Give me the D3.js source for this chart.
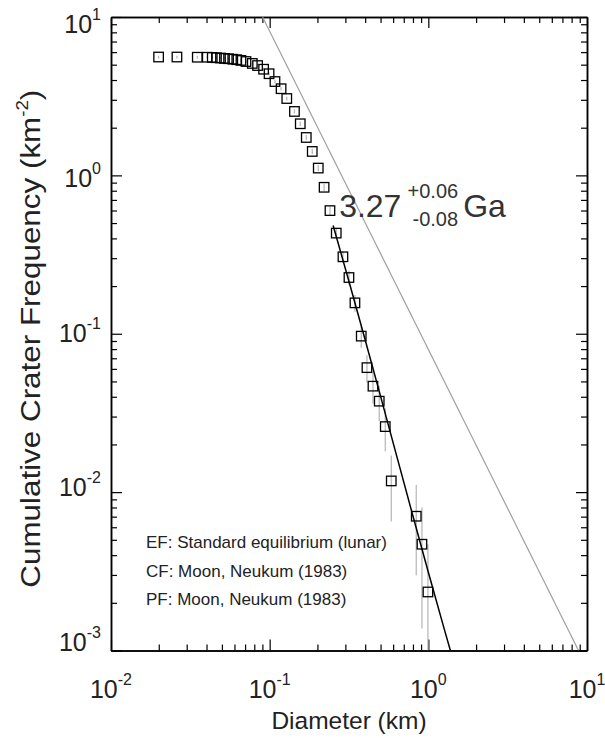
<!DOCTYPE html>
<html>
<head>
<meta charset="utf-8">
<script src="https://cdn.jsdelivr.net/npm/d3@7"></script>
<style>
  body { margin: 0; background: #fff; }
  text { font-family: "Liberation Sans", Arial, Helvetica, sans-serif; fill: #222; }
  .axis path.domain { stroke: #000; stroke-width: 1.5; }
  .axis line { stroke: #000; stroke-width: 1.2; }
</style>
</head>
<body>
<script>
// cumulative crater counts (km, km^-2)
const diameters = [0.01995, 0.02604, 0.03498, 0.04044, 0.04347, 0.04620, 0.04898, 0.05190,
  0.05508, 0.05853, 0.06203, 0.06592, 0.07090, 0.07771, 0.08391, 0.09155, 0.09913, 0.1080,
  0.1180, 0.1282, 0.1433, 0.1559, 0.1701, 0.1855, 0.2024, 0.2203, 0.2399, 0.2628, 0.2896,
  0.3160, 0.3447, 0.3777, 0.4103, 0.4477, 0.4904, 0.5353, 0.5839, 0.8390, 0.9115, 0.9942];
const frequencies = [5.588, 5.588, 5.572, 5.572, 5.556, 5.532, 5.508, 5.477,
  5.453, 5.413, 5.375, 5.319, 5.235, 5.092, 4.938, 4.680, 4.384, 3.913,
  3.525, 3.057, 2.533, 2.118, 1.735, 1.416, 1.112, 0.8409, 0.5993, 0.4320, 0.3061,
  0.2265, 0.1567, 0.0966, 0.0611, 0.04667, 0.03752, 0.02593, 0.01177, 0.007044, 0.004688, 0.002342];
const frequencyErrors = [0.1143, 0.1143, 0.1143, 0.1143, 0.1141, 0.1138, 0.1136, 0.1133,
  0.1130, 0.1126, 0.1122, 0.1116, 0.1107, 0.1092, 0.1075, 0.1047, 0.1013, 0.0957,
  0.0909, 0.0846, 0.0770, 0.0704, 0.0637, 0.0576, 0.0510, 0.0444, 0.0375, 0.0318, 0.0268,
  0.0230, 0.0192, 0.01504, 0.01196, 0.01045, 0.00937, 0.00779, 0.00525, 0.00406, 0.00331, 0.00234];

// fitted production function (PF) over the fit range
const fitDiameters = [0.2512, 0.3162, 0.3981, 0.5012, 0.6310, 0.7943, 1.0, 1.2589, 1.377];
const fitFrequencies = [0.4827, 0.2137, 0.0930, 0.03993, 0.01701, 0.007249, 0.003119, 0.001369, 0.001001];

// standard lunar equilibrium (EF)
const equilibriumDiameters = [0.0902, 8.84];
const equilibriumFrequencies = [10, 0.001];

const xTickExponents = [-2, -1, 0, 1];
const yTickExponents = [-3, -2, -1, 0, 1];

const legendKeys = ["EF", "CF", "PF"];
const legendTexts = ["Standard equilibrium (lunar)", "Moon, Neukum (1983)", "Moon, Neukum (1983)"];

const ageValue = "3.27", agePlus = "+0.06", ageMinus = "-0.08", ageUnit = "Ga";

const width = 605, height = 738;
const margin = { top: 17, right: 18, bottom: 87.5, left: 111 };

const svg = d3.select("body").append("svg")
  .attr("width", width)
  .attr("height", height);

const x = d3.scaleLog().domain([1e-2, 1e1]).range([margin.left, width - margin.right]);
const y = d3.scaleLog().domain([1e-3, 1e1]).range([height - margin.bottom, margin.top]);

const isMajor = d => Math.abs(Math.log10(d) - Math.round(Math.log10(d))) < 1e-9;
const xMajor = x.ticks().filter(isMajor), xMinor = x.ticks().filter(d => !isMajor(d));
const yMajor = y.ticks().filter(isMajor), yMinor = y.ticks().filter(d => !isMajor(d));

// ticks on all four sides, pointing inwards
function axis(fn, transform, values, size) {
  svg.append("g")
    .attr("class", "axis")
    .attr("transform", transform)
    .call(fn.tickValues(values).tickSize(size).tickSizeOuter(0).tickFormat(""));
}
const x0 = height - margin.bottom, x1 = margin.top;
const y0 = margin.left, y1 = width - margin.right;
axis(d3.axisBottom(x), `translate(0,${x0})`, xMinor, -6);
axis(d3.axisBottom(x), `translate(0,${x0})`, xMajor, -11);
axis(d3.axisTop(x), `translate(0,${x1})`, xMinor, -6);
axis(d3.axisTop(x), `translate(0,${x1})`, xMajor, -11);
axis(d3.axisLeft(y), `translate(${y0},0)`, yMinor, -6);
axis(d3.axisLeft(y), `translate(${y0},0)`, yMajor, -11);
axis(d3.axisRight(y), `translate(${y1},0)`, yMinor, -6);
axis(d3.axisRight(y), `translate(${y1},0)`, yMajor, -11);

// tick labels as 10^n
function powerLabel(sel, e) {
  sel.append("tspan").text("10");
  sel.append("tspan").attr("dy", -13).attr("font-size", 16).text(e);
}
xTickExponents.forEach(e => {
  svg.append("text")
    .attr("x", x(Math.pow(10, e)))
    .attr("y", 698)
    .attr("text-anchor", "middle")
    .attr("font-size", 25)
    .call(powerLabel, e);
});
// y labels sit slightly inside the tick range
const yLabel = d3.scaleLog().domain(y.domain()).range([x0 - 9, x1 + 7]);
yTickExponents.forEach(e => {
  svg.append("text")
    .attr("x", 101)
    .attr("y", yLabel(Math.pow(10, e)) + 9)
    .attr("text-anchor", "end")
    .attr("font-size", 25)
    .call(powerLabel, e);
});

// axis titles
svg.append("text")
  .attr("x", (margin.left + width - margin.right) / 2)
  .attr("y", 729)
  .attr("text-anchor", "middle")
  .attr("font-size", 24.5)
  .text("Diameter (km)");

const yTitle = svg.append("text")
  .attr("transform", `translate(40,${(x0 + x1) / 2 + 5}) rotate(-90)`)
  .attr("text-anchor", "middle")
  .attr("font-size", 27)
  .attr("textLength", 498)
  .attr("lengthAdjust", "spacingAndGlyphs");
yTitle.append("tspan").text("Cumulative Crater Frequency (km");
yTitle.append("tspan").attr("dy", -12).attr("font-size", 16).text("-2");
yTitle.append("tspan").attr("dy", 12).text(")");

// clip data to the frame
svg.append("clipPath").attr("id", "plot")
  .append("rect")
  .attr("x", margin.left).attr("y", margin.top)
  .attr("width", width - margin.left - margin.right)
  .attr("height", height - margin.top - margin.bottom);
const plot = svg.append("g").attr("clip-path", "url(#plot)");

const line = d3.line().x(d => x(d[0])).y(d => y(d[1]));

plot.append("path")
  .datum(d3.zip(equilibriumDiameters, equilibriumFrequencies))
  .attr("d", line)
  .attr("fill", "none")
  .attr("stroke", "#a0a0a0")
  .attr("stroke-width", 1.2);

const points = d3.zip(diameters, frequencies, frequencyErrors);

// error bars
plot.selectAll("line.err")
  .data(points)
  .enter()
  .append("line")
  .attr("class", "err")
  .attr("x1", d => x(d[0]))
  .attr("x2", d => x(d[0]))
  .attr("y1", d => y(d[1] + d[2]))
  .attr("y2", d => y(Math.max(d[1] - d[2], 1e-3)))
  .attr("stroke", "#b4b4b4")
  .attr("stroke-width", 1.2);

plot.append("path")
  .datum(d3.zip(fitDiameters, fitFrequencies))
  .attr("d", line)
  .attr("fill", "none")
  .attr("stroke", "#000")
  .attr("stroke-width", 1.5);

const side = 9.5;
plot.selectAll("rect.pt")
  .data(points)
  .enter()
  .append("rect")
  .attr("class", "pt")
  .attr("x", d => x(d[0]) - side / 2)
  .attr("y", d => y(d[1]) - side / 2)
  .attr("width", side)
  .attr("height", side)
  .attr("fill", "none")
  .attr("stroke", "#000")
  .attr("stroke-width", 1.3);

// model age, placed next to the start of the fit
const ax = x(fitDiameters[0]), ay = y(fitFrequencies[0]);
svg.append("text").attr("x", ax + 6).attr("y", ay - 8)
  .attr("font-size", 32).style("fill", "#333").text(ageValue);
svg.append("text").attr("x", ax + 125).attr("y", ay - 27)
  .attr("text-anchor", "end").attr("font-size", 20).style("fill", "#333").text(agePlus);
svg.append("text").attr("x", ax + 125).attr("y", ay + 1)
  .attr("text-anchor", "end").attr("font-size", 20).style("fill", "#333").text(ageMinus);
svg.append("text").attr("x", ax + 130).attr("y", ay - 8)
  .attr("font-size", 32).style("fill", "#333").text(ageUnit);

// legend
legendKeys.forEach((k, i) => {
  svg.append("text")
    .attr("x", margin.left + 35)
    .attr("y", 548 + i * 28.5)
    .attr("font-size", 17)
    .text(k + ": " + legendTexts[i]);
});
</script>
</body>
</html>
